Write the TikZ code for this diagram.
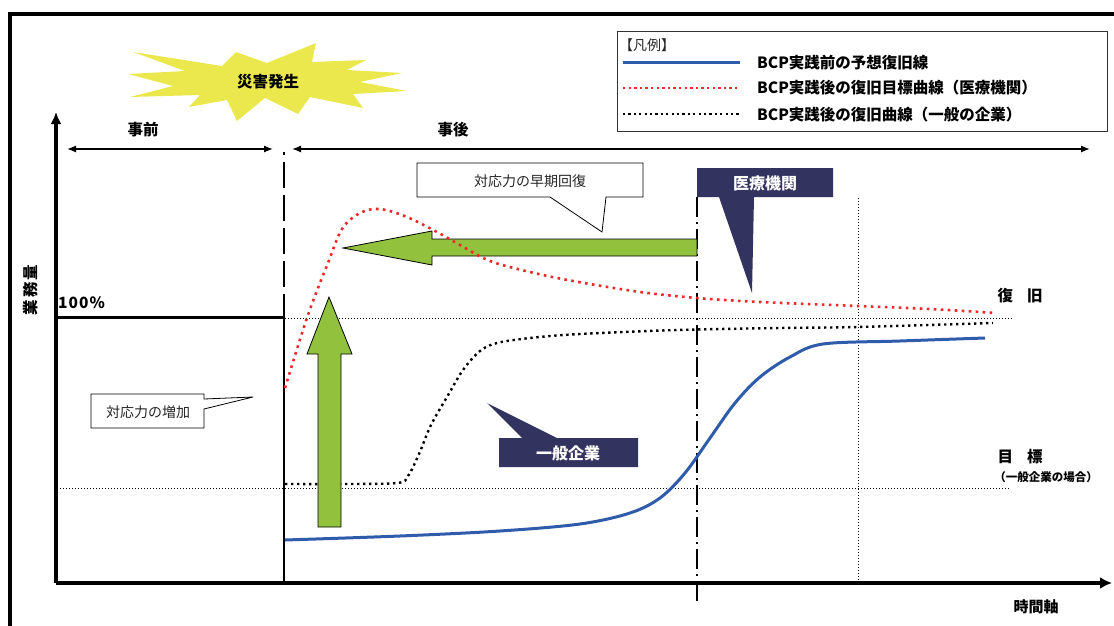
\documentclass[tikz,border=0pt]{standalone}
\usepackage{fontspec}
\setmainfont{Noto Sans CJK JP}
\usetikzlibrary{arrows.meta}
\definecolor{bgreen}{HTML}{92C13E}
\definecolor{navy}{HTML}{33335F}
\definecolor{burst}{HTML}{EBE84E}
\definecolor{bblue}{HTML}{2E5BAA}
\definecolor{rdot}{HTML}{F02828}
\tikzset{
  bigtxt/.style={font=\fontsize{15.5}{16}\selectfont\bfseries, inner sep=0pt},
  legtxt/.style={font=\fontsize{15.5}{16}\selectfont\bfseries, inner sep=0pt, anchor=west},
  normtxt/.style={font=\fontsize{14}{15}\selectfont, inner sep=0pt, text=black!85},
  whitetxt/.style={font=\fontsize{16}{16}\selectfont\bfseries, inner sep=0pt, text=white},
  thindot/.style={line width=1pt, dash pattern=on 1pt off 2pt},
  reddot/.style={draw=rdot, line width=2.6pt, dash pattern=on 2.6pt off 4.4pt},
  blackdot/.style={draw=black, line width=2.4pt, dash pattern=on 2.4pt off 3.6pt},
  greenarrow/.style={fill=bgreen, draw=black, line width=0.8pt},
  callout/.style={fill=white, draw=black, line width=0.8pt},
  spanarrow/.style={line width=1.3pt, {Latex[length=9pt,width=7pt]}-{Latex[length=9pt,width=7pt]}},
}
\begin{document}
\begin{tikzpicture}[x=1pt,y=-1pt]
\useasboundingbox (0,0) rectangle (1114,626);
% outer frame
\draw[line width=4pt] (10,626) -- (10,14) -- (1114,14);
% starburst
\fill[burst] (133,52) -- (222,66) -- (236,52) -- (267,63) -- (316,43) -- (312,62) -- (366,60) -- (347,70) -- (402,73) -- (360,82) -- (407,91) -- (353,94) -- (363,108) -- (310,97) -- (298,114) -- (265,98) -- (237,121) -- (227,100) -- (189,107) -- (200,95) -- (130,97) -- (173,86) -- (128,74) -- (185,71) -- cycle;
\node[bigtxt] (disaster) at (268,82) {災害発生};
% legend
\draw[line width=0.9pt, draw=black!80] (617,31) rectangle (1107,131);
\node[normtxt, anchor=west, font=\fontsize{14}{15}\selectfont] (legtitle) at (619,45) {【凡例】};
\draw[bblue, line width=3pt] (623,63) -- (740,63);
\draw[reddot, line width=2.4pt, dash pattern=on 2.4pt off 3.2pt] (623,88) -- (740,88);
\draw[blackdot, line width=2.2pt, dash pattern=on 2.2pt off 3.2pt] (623,114) -- (740,114);
\node[legtxt] (leg1) at (757,63) {BCP実践前の予想復旧線};
\node[legtxt] (leg2) at (757,88) {BCP実践後の復旧目標曲線（医療機関）};
\node[legtxt] (leg3) at (757,115) {BCP実践後の復旧曲線（一般の企業）};
% axes
\coordinate (origin) at (56,583);
\coordinate (ytip) at (56,112);
\coordinate (xtip) at (1112,583);
\draw[line width=3.2pt, -{Latex[length=12pt,width=11pt]}] (origin) -- (ytip);
\draw[line width=4pt, -{Latex[length=12pt,width=12pt]}] (origin) -- (xtip);
\node[bigtxt, rotate=90] (ylabel) at (31,290) {業\hspace{2pt}務\hspace{2pt}量};
\node[bigtxt, font=\fontsize{15}{15}\selectfont\bfseries] (xlabel) at (1036,607) {時間軸};
\node[bigtxt, anchor=west, font=\fontsize{15.5}{15}\selectfont\bfseries] (pct) at (58,303) {1\kern1pt0\kern1pt0\kern1pt\%};
% span arrows
\coordinate (preL) at (67,149); \coordinate (preR) at (273,149);
\coordinate (postL) at (292,149); \coordinate (postR) at (1090,149);
\draw[spanarrow] (preL) -- (preR);
\draw[spanarrow] (postL) -- (postR);
\node[bigtxt] (pre) at (143,130) {事前};
\node[bigtxt] (post) at (453,130) {事後};
% reference lines
\draw[thindot] (285,318) -- (1013,318);
\draw[thindot] (57,488) -- (1010,488);
\draw[thindot] (858,198) -- (858,583);
\draw[line width=3pt] (58,317) -- (283,317);
\draw[line width=2.6pt] (284,152) -- (284,155);
\draw[line width=2.6pt, dash pattern=on 26pt off 7pt] (284,162) -- (284,317);
\draw[line width=2pt] (284,317) -- (284,583);
\draw[line width=1.8pt, dash pattern=on 20pt off 5pt on 2pt off 5pt] (697,197) -- (697,605);
% blue curve
\draw[bblue, line width=3pt] plot[smooth, tension=0.55] coordinates {(285,540) (400,536) (500,531) (580,524) (630,513) (660,498) (685,473) (710,438) (735,403) (760,377) (790,357) (823,344) (900,341) (985,338)};
% black dotted curve
\draw[blackdot] plot[smooth, tension=0.55] coordinates {(285,484) (340,484) (397,483) (408,476) (419,454) (431,425) (447,397) (463,370) (480,351) (497,343) (530,338) (580,334) (677,330) (780,328) (858,327) (993,323)};
% green arrows
\draw[greenarrow] (318,527) -- (318,354) -- (307,354) -- (329,297) -- (352,354) -- (341,354) -- (341,527) -- cycle;
\draw[greenarrow] (697,239) -- (432,239) -- (432,231) -- (343,248) -- (432,265) -- (432,256) -- (697,256) -- cycle;
% red dotted curve
\draw[reddot] plot[smooth, tension=0.55] coordinates {(285,388) (297,349) (308,315) (318,288) (328,263) (342,229) (360,213) (380,209) (407,217) (437,232) (460,245) (490,261) (530,272) (573,281) (640,292) (697,298) (760,302) (858,306) (930,309) (995,313)};
% callouts
\draw[callout] (417,163) -- (643,163) -- (643,197) -- (606,197) -- (602,232) -- (550,197) -- (417,197) -- cycle;
\node[normtxt] (early) at (530,181) {対応力の早期回復};
\draw[callout] (91,394) -- (204,394) -- (204,399) -- (253,397) -- (204,409) -- (204,428) -- (91,428) -- cycle;
\node[normtxt] (increase) at (148,412) {対応力の増加};
% dark labels
\fill[navy] (697,168) -- (833,168) -- (833,197) -- (754,197) -- (752,293) -- (719,197) -- (697,197) -- cycle;
\node[whitetxt] (medical) at (765,183) {医療機関};
\fill[navy] (499,438) -- (522,438) -- (487,403) -- (557,438) -- (638,438) -- (638,467) -- (499,467) -- cycle;
\node[whitetxt] (general) at (568,453) {一般企業};
% right labels
\node[bigtxt] (recover) at (1020,296) {復\hspace{14pt}旧};
\node[bigtxt] (target) at (1020,457) {目\hspace{14pt}標};
\node[bigtxt, font=\fontsize{11.5}{12}\selectfont\bfseries] (targetnote) at (1046,477) {（一般企業の場合）};
\end{tikzpicture}
\end{document}
